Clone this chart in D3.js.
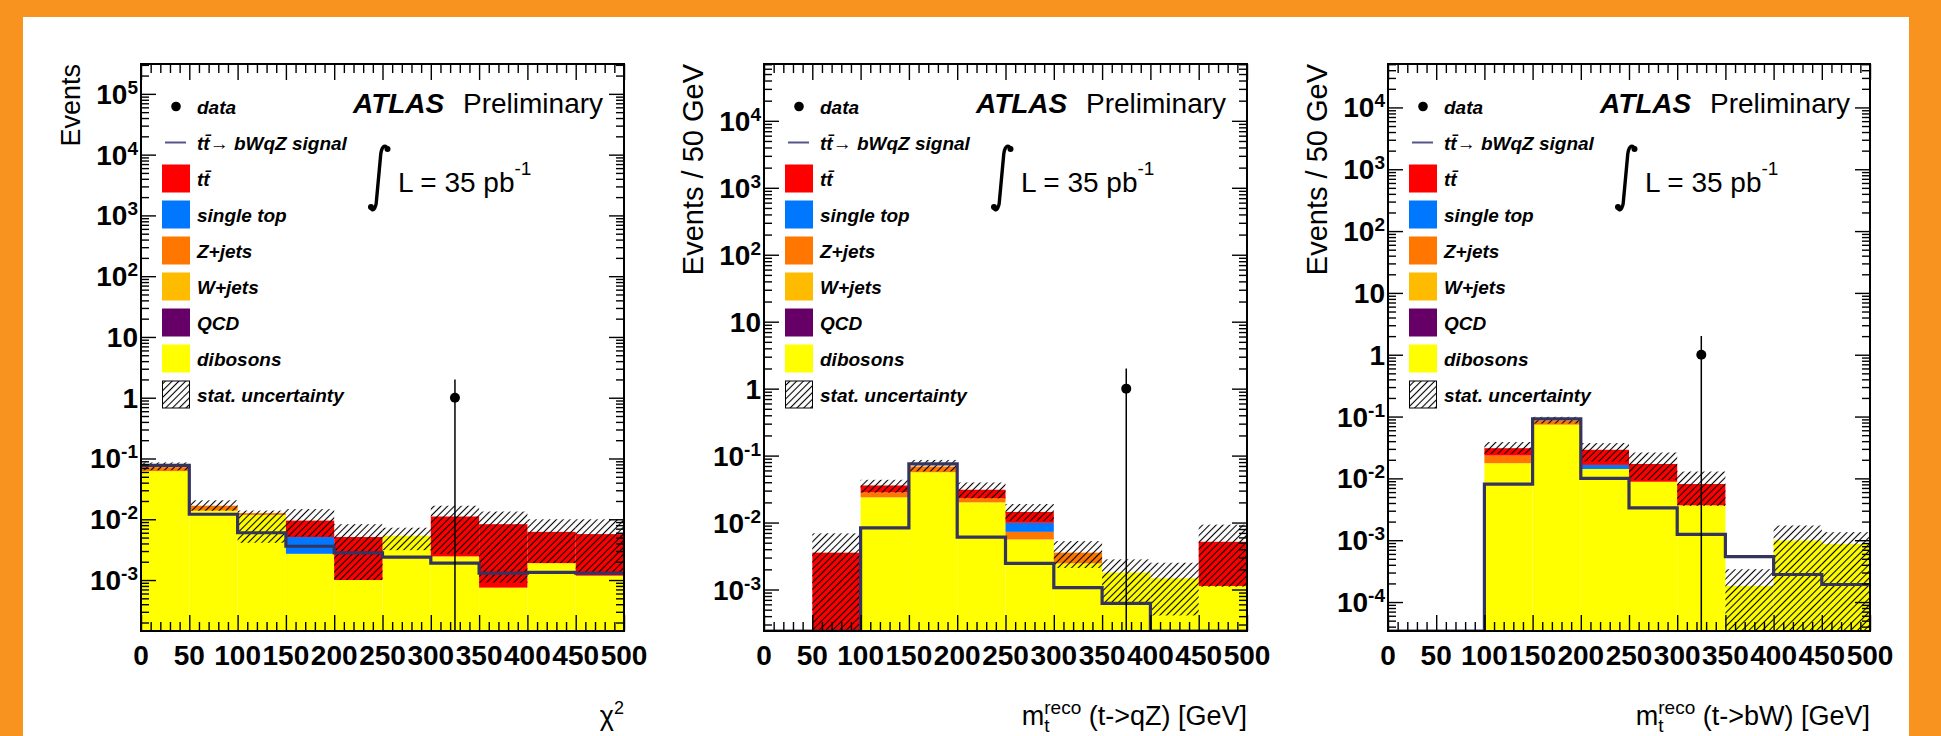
<!DOCTYPE html>
<html>
<head>
<meta charset="utf-8">
<script src="https://cdnjs.cloudflare.com/ajax/libs/d3/7.8.5/d3.min.js"></script>
<style>
    body { margin: 0; background: #f7931e; }
    svg { display: block; }
    text { font-family: "Liberation Sans", Arial, Helvetica, sans-serif; }
</style>
</head>
<body>
<svg width="1941" height="736"></svg>
<script>
// ---------------- data ----------------

var binEdges = [0, 50, 100, 150, 200, 250, 300, 350, 400, 450, 500];
var xTickLabels = ["0", "50", "100", "150", "200", "250", "300", "350", "400", "450", "500"];

// chi2 panel, events per bin for each process
var chi2Dibosons  = [0.062, 0.0139, 0.0118, 0.0027, 0.001, 0.00535, 0.00245, 0.00075, 0.0019, 0.00118];
var chi2Qcd       = [0, 0, 0, 0, 0, 0, 0, 0, 0, 0];
var chi2Wjets     = [0, 0, 0, 0, 0, 0, 0, 0, 0, 0];
var chi2Zjets     = [0.010, 0.0028, 0.0008, 0, 0, 0, 0, 0, 0, 0];
var chi2SingleTop = [0, 0, 0, 0.0024, 0, 0, 0, 0, 0, 0];
var chi2Ttbar     = [0, 0, 0, 0.0044, 0.0041, 0, 0.00865, 0.00755, 0.0043, 0.00452];
var chi2Signal    = [0.077, 0.0121, 0.006, 0.0036, 0.0028, 0.00239, 0.0019, 0.0013, 0.00134, 0.0013];
var chi2UncLo     = [0.064, 0.0138, 0.0041, 0.0052, 0.001, 0.0031, 0.0027, 0.0009, 0.0019, 0.0013];
var chi2UncHi     = [0.086, 0.0205, 0.0139, 0.0147, 0.0083, 0.00726, 0.0167, 0.0134, 0.010, 0.010];
var chi2DataX = [325], chi2DataY = [1], chi2DataErr = [1];

// m_t reco (t->qZ) panel
var qzDibosons  = [0, 0, 0.0238, 0.0565, 0.020, 0.0056, 0.00246, 0.00179, 0.00147, 0.00113];
var qzQcd       = [0, 0, 0, 0, 0, 0, 0, 0, 0, 0];
var qzWjets     = [0, 0, 0, 0, 0, 0, 0, 0, 0, 0];
var qzZjets     = [0, 0, 0.0044, 0.0122, 0.0032, 0.00166, 0.00109, 0, 0, 0];
var qzSingleTop = [0, 0, 0, 0, 0, 0.00264, 0, 0, 0, 0];
var qzTtbar     = [0, 0.00355, 0.0076, 0, 0.0077, 0.0045, 0, 0, 0, 0.00403];
var qzSignal    = [0, 0, 0.0083, 0.0752, 0.00605, 0.00246, 0.00107, 0.00062, 0, 0];
var qzUncLo     = [0, 0, 0.028, 0.058, 0.023, 0.0105, 0.0021, 0.00064, 0.00041, 0.0011];
var qzUncHi     = [0, 0.0069, 0.0435, 0.0862, 0.0397, 0.0189, 0.00528, 0.00282, 0.00251, 0.0093];
var qzDataX = [375], qzDataY = [1], qzDataErr = [1];

// m_t reco (t->bW) panel
var bwDibosons  = [0, 0, 0.0176, 0.074, 0.0142, 0.00883, 0.00367, 0.000182, 0.00099, 0.00087];
var bwQcd       = [0, 0, 0, 0, 0, 0, 0, 0, 0, 0];
var bwWjets     = [0, 0, 0, 0, 0, 0, 0, 0, 0, 0];
var bwZjets     = [0, 0, 0.0058, 0.012, 0, 0, 0, 0, 0, 0];
var bwSingleTop = [0, 0, 0, 0, 0.0023, 0, 0, 0, 0, 0];
var bwTtbar     = [0, 0, 0.0074, 0, 0.0125, 0.00827, 0.00443, 0, 0, 0];
var bwSignal    = [0, 0, 0.0081, 0.0916, 0.010, 0.00333, 0.00124, 0.000542, 0.000279, 0.000192];
var bwUncLo     = [0, 0, 0.025, 0.077, 0.0187, 0.0094, 0.0036, 0, 0, 0];
var bwUncHi     = [0, 0, 0.0387, 0.099, 0.0372, 0.0262, 0.0129, 0.00034, 0.00173, 0.00135];
var bwDataX = [325], bwDataY = [1], bwDataErr = [1];

// stacking order, bottom first
var stackKeys = ["dibosons", "qcd", "wjets", "zjets", "singletop", "ttbar"];
var stackColors = { dibosons: "#ffff00", qcd: "#660066", wjets: "#ffbb00", zjets: "#ff7700", singletop: "#0077ff", ttbar: "#ff0000" };
var legendKeys = ["ttbar", "singletop", "zjets", "wjets", "qcd", "dibosons"];
var legendNames = { singletop: "single top", zjets: "Z+jets", wjets: "W+jets", qcd: "QCD", dibosons: "dibosons" };

// ---------------- layout ----------------

var W = 1941, H = 736;
var frameTop = 64, frameBottom = 631;
var signalColor = "#34345e";

var panels = [
    { left: 141, right: 624, yMin: 1.45e-4, yMax: 3.1e5, yTitle: "Events", xTitle: "chi2",
      dibosons: chi2Dibosons, qcd: chi2Qcd, wjets: chi2Wjets, zjets: chi2Zjets, singletop: chi2SingleTop, ttbar: chi2Ttbar,
      signal: chi2Signal, uncLo: chi2UncLo, uncHi: chi2UncHi, dataX: chi2DataX, dataY: chi2DataY, dataErr: chi2DataErr },
    { left: 764, right: 1247, yMin: 2.4e-4, yMax: 7.06e4, yTitle: "Events / 50 GeV", xTitle: "(t->qZ) [GeV]",
      dibosons: qzDibosons, qcd: qzQcd, wjets: qzWjets, zjets: qzZjets, singletop: qzSingleTop, ttbar: qzTtbar,
      signal: qzSignal, uncLo: qzUncLo, uncHi: qzUncHi, dataX: qzDataX, dataY: qzDataY, dataErr: qzDataErr },
    { left: 1388, right: 1870, yMin: 3.4e-5, yMax: 5.04e4, yTitle: "Events / 50 GeV", xTitle: "(t->bW) [GeV]",
      dibosons: bwDibosons, qcd: bwQcd, wjets: bwWjets, zjets: bwZjets, singletop: bwSingleTop, ttbar: bwTtbar,
      signal: bwSignal, uncLo: bwUncLo, uncHi: bwUncHi, dataX: bwDataX, dataY: bwDataY, dataErr: bwDataErr }
];

var svg = d3.select("svg");

// orange slide border + white sheet
svg.append("rect").attr("width", W).attr("height", H).attr("fill", "#f7931e");
svg.append("rect").attr("x", 23).attr("y", 17).attr("width", 1886).attr("height", H - 17).attr("fill", "white");

var defs = svg.append("defs");
var hatch = defs.append("pattern")
    .attr("id", "hatch")
    .attr("patternUnits", "userSpaceOnUse")
    .attr("width", 4.8).attr("height", 4.8)
    .attr("patternTransform", "rotate(45)");
hatch.append("line")
    .attr("x1", 2.4).attr("y1", 0).attr("x2", 2.4).attr("y2", 4.8)
    .attr("stroke", "black").attr("stroke-width", 1.1);

// ttbar label: t t-bar
function ttbarText(sel) {
    sel.append("tspan").text("t");
    sel.append("tspan").text("t\u0304");
}

function drawPanel(p, idx) {
    var g = svg.append("g");
    var x = d3.scaleLinear().domain([0, 500]).range([p.left, p.right]);
    var y = d3.scaleLog().domain([p.yMin, p.yMax]).range([frameBottom, frameTop]);
    // zero or below the axis -> frame bottom
    function yy(v) { return v <= p.yMin ? frameBottom : y(v); }

    defs.append("clipPath").attr("id", "clip" + idx)
        .append("rect")
        .attr("x", p.left).attr("y", frameTop)
        .attr("width", p.right - p.left).attr("height", frameBottom - frameTop);
    var plot = g.append("g").attr("clip-path", "url(#clip" + idx + ")");

    // stacked backgrounds
    var rows = p.dibosons.map(function (d, i) {
        var r = { lo: binEdges[i], hi: binEdges[i + 1] };
        stackKeys.forEach(function (k) { r[k] = p[k][i]; });
        return r;
    });
    var series = d3.stack().keys(stackKeys)(rows);
    series.forEach(function (s) {
        plot.selectAll(null)
            .data(s.filter(function (d) { return d[1] > d[0]; }))
            .enter()
            .append("rect")
            .attr("x", function (d) { return x(d.data.lo); })
            .attr("width", function (d) { return x(d.data.hi) - x(d.data.lo); })
            .attr("y", function (d) { return yy(d[1]); })
            .attr("height", function (d) { return yy(d[0]) - yy(d[1]); })
            .attr("fill", stackColors[s.key]);
    });

    // stat. uncertainty band
    plot.selectAll(null)
        .data(rows.map(function (r, i) { return { lo: r.lo, hi: r.hi, a: p.uncLo[i], b: p.uncHi[i] }; })
                  .filter(function (d) { return d.b > 0; }))
        .enter()
        .append("rect")
        .attr("x", function (d) { return x(d.lo); })
        .attr("width", function (d) { return x(d.hi) - x(d.lo); })
        .attr("y", function (d) { return yy(d.b); })
        .attr("height", function (d) { return yy(d.a) - yy(d.b); })
        .attr("fill", "url(#hatch)");

    // signal step histogram
    var steps = binEdges.map(function (e, i) { return [e, p.signal[Math.min(i, p.signal.length - 1)]]; });
    plot.append("path")
        .attr("d", d3.line()
            .x(function (d) { return x(d[0]); })
            .y(function (d) { return yy(d[1]); })
            .curve(d3.curveStepAfter)(steps))
        .attr("fill", "none")
        .attr("stroke", signalColor)
        .attr("stroke-width", 3.2);

    // data
    p.dataX.forEach(function (dx, i) {
        plot.append("line")
            .attr("x1", x(dx)).attr("x2", x(dx))
            .attr("y1", yy(p.dataY[i] + p.dataErr[i]))
            .attr("y2", yy(p.dataY[i] - p.dataErr[i]))
            .attr("stroke", "black").attr("stroke-width", 1.5);
        plot.append("circle")
            .attr("cx", x(dx)).attr("cy", y(p.dataY[i])).attr("r", 5)
            .attr("fill", "black");
    });

    // ticks on all four sides
    var xMinor = d3.range(0, 501, 10).filter(function (v) { return v % 50 != 0; });
    var decLo = Math.floor(Math.log10(p.yMin)), decHi = Math.ceil(Math.log10(p.yMax));
    var yMajor = [], yMinor = [];
    for (var n = decLo; n <= decHi; n++)
        for (var k = 1; k <= 9; k++) {
            var v = k * Math.pow(10, n);
            if (v < p.yMin || v > p.yMax) continue;
            if (k == 1) yMajor.push(v); else yMinor.push(v);
        }

    function ticks(axis, tr, values, size) {
        var a = g.append("g").attr("transform", tr)
            .call(axis.tickValues(values).tickSize(size).tickSizeOuter(0).tickFormat(""));
        a.select(".domain").remove();
        a.selectAll("line").attr("stroke", "black").attr("stroke-width", 1.4);
    }
    ticks(d3.axisBottom(x), "translate(0," + frameBottom + ")", binEdges, -16);
    ticks(d3.axisBottom(x), "translate(0," + frameBottom + ")", xMinor, -9);
    ticks(d3.axisTop(x), "translate(0," + frameTop + ")", binEdges, -16);
    ticks(d3.axisTop(x), "translate(0," + frameTop + ")", xMinor, -9);
    ticks(d3.axisLeft(y), "translate(" + p.left + ",0)", yMajor, -15);
    ticks(d3.axisLeft(y), "translate(" + p.left + ",0)", yMinor, -8);
    ticks(d3.axisRight(y), "translate(" + p.right + ",0)", yMajor, -15);
    ticks(d3.axisRight(y), "translate(" + p.right + ",0)", yMinor, -8);

    g.append("rect")
        .attr("x", p.left).attr("y", frameTop)
        .attr("width", p.right - p.left).attr("height", frameBottom - frameTop)
        .attr("fill", "none").attr("stroke", "black").attr("stroke-width", 2);

    // x tick labels
    g.selectAll(null)
        .data(binEdges)
        .enter()
        .append("text")
        .attr("x", function (d) { return x(d); })
        .attr("y", frameBottom + 34)
        .attr("text-anchor", "middle")
        .attr("font-size", 28).attr("font-weight", "bold")
        .text(function (d, i) { return xTickLabels[i]; });

    // y tick labels 10^n
    yMajor.forEach(function (v) {
        var n = Math.round(Math.log10(v));
        var t = g.append("text")
            .attr("x", p.left - 3).attr("y", y(v) + 10)
            .attr("text-anchor", "end")
            .attr("font-size", 28).attr("font-weight", "bold");
        if (n == 0) t.text("1");
        else if (n == 1) t.text("10");
        else {
            t.append("tspan").text("10");
            t.append("tspan").attr("dy", -10).attr("font-size", 19).text(String(n));
        }
    });

    // axis titles
    g.append("text")
        .attr("transform", "translate(" + (p.left - 61) + "," + frameTop + ") rotate(-90)")
        .attr("text-anchor", "end")
        .attr("font-size", idx == 0 ? 27 : 29)
        .text(p.yTitle);

    if (p.xTitle == "chi2") {
        var xt = g.append("text")
            .attr("x", p.right).attr("y", frameBottom + 94)
            .attr("text-anchor", "end").attr("font-size", 27);
        xt.append("tspan").text("\u03c7");
        xt.append("tspan").attr("dy", -11).attr("font-size", 18).text("2");
    } else {
        var xt = g.append("text")
            .attr("x", p.right).attr("y", frameBottom + 94)
            .attr("text-anchor", "end").attr("font-size", 27);
        xt.append("tspan").text("m");
        xt.append("tspan").attr("dy", -11).attr("font-size", 19).text("reco");
        xt.append("tspan").attr("dy", 11).text(" " + p.xTitle);
        var sx = xt.node().getStartPositionOfChar(1).x;
        g.append("text")
            .attr("x", sx).attr("y", frameBottom + 101)
            .attr("font-size", 19).text("t");
    }

    // ATLAS Preliminary, luminosity
    g.append("text")
        .attr("x", p.left + 212).attr("y", frameTop + 49)
        .attr("font-size", 28).attr("font-weight", "bold").attr("font-style", "italic")
        .text("ATLAS");
    g.append("text")
        .attr("x", p.left + 322).attr("y", frameTop + 49)
        .attr("font-size", 28)
        .text("Preliminary");

    var ix = p.left, iy = frameTop;
    g.append("path")
        .attr("d", "M" + (ix + 247) + "," + (iy + 85) +
                   " C" + (ix + 244) + "," + (iy + 79) + " " + (ix + 240) + "," + (iy + 83) + " " + (ix + 239.5) + "," + (iy + 93) +
                   " L" + (ix + 235.5) + "," + (iy + 136) +
                   " C" + (ix + 235) + "," + (iy + 146) + " " + (ix + 231) + "," + (iy + 148) + " " + (ix + 229.5) + "," + (iy + 143))
        .attr("fill", "none").attr("stroke", "black").attr("stroke-width", 3.4).attr("stroke-linecap", "round");
    g.append("circle").attr("cx", ix + 246.5).attr("cy", iy + 85).attr("r", 3).attr("fill", "black");
    g.append("circle").attr("cx", ix + 230).attr("cy", iy + 143).attr("r", 3).attr("fill", "black");

    var lum = g.append("text")
        .attr("x", p.left + 257).attr("y", frameTop + 128)
        .attr("font-size", 28);
    lum.append("tspan").text("L = 35 pb");
    lum.append("tspan").attr("dy", -17).attr("font-size", 19).text("-1");

    // legend
    function rowY(i) { return frameTop + 42.5 + i * 36; }
    function legText(i) {
        return g.append("text")
            .attr("x", p.left + 56).attr("y", rowY(i) + 7)
            .attr("font-size", 19).attr("font-weight", "bold").attr("font-style", "italic");
    }
    g.append("circle").attr("cx", p.left + 35).attr("cy", rowY(0)).attr("r", 4.8).attr("fill", "black");
    legText(0).text("data");

    g.append("line")
        .attr("x1", p.left + 24).attr("x2", p.left + 45)
        .attr("y1", rowY(1)).attr("y2", rowY(1))
        .attr("stroke", "#55558a").attr("stroke-width", 2);
    var sl = legText(1);
    ttbarText(sl);
    sl.append("tspan").attr("font-weight", "normal").attr("font-style", "normal").text("\u2192");
    sl.append("tspan").text(" bWqZ signal");

    legendKeys.forEach(function (k, i) {
        g.append("rect")
            .attr("x", p.left + 21).attr("y", rowY(i + 2) - 14)
            .attr("width", 28).attr("height", 28)
            .attr("fill", stackColors[k]);
        var t = legText(i + 2);
        if (k == "ttbar") ttbarText(t);
        else t.text(legendNames[k]);
    });
    g.append("rect")
        .attr("x", p.left + 21.5).attr("y", rowY(8) - 13.5)
        .attr("width", 27).attr("height", 27)
        .attr("fill", "url(#hatch)").attr("stroke", "black").attr("stroke-width", 1);
    legText(8).text("stat. uncertainty");
}

panels.forEach(drawPanel);
</script>
</body>
</html>
